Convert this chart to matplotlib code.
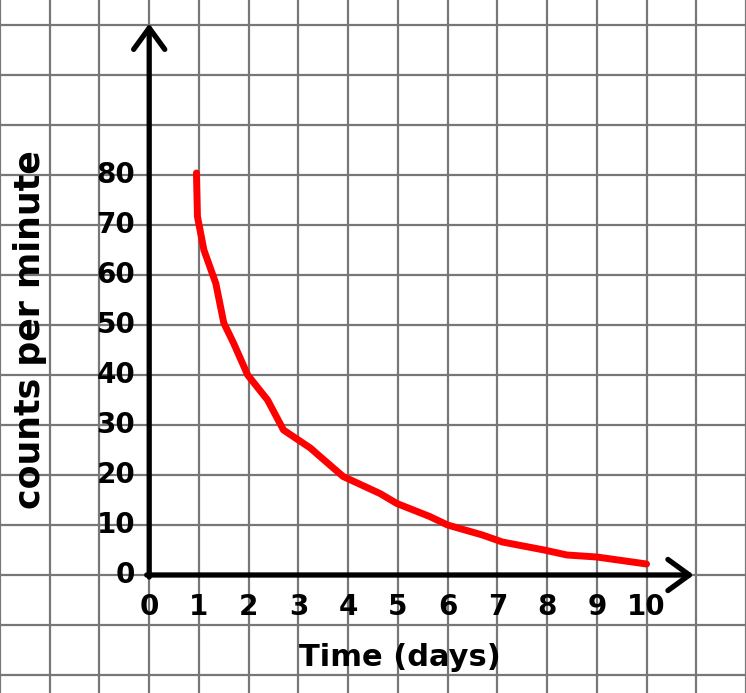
import matplotlib.pyplot as plt

# decay curve
days = [0.95, 0.97, 1.1, 1.34, 1.5, 1.7, 1.98, 2.38, 2.7, 3.0, 3.24, 3.4,
        3.9, 4.64, 4.98, 5.64, 6.0, 6.7, 7.1, 7.94, 8.4, 9.0, 10.0]
counts = [80.4, 71.7, 65, 58.3, 50.4, 46.3, 40, 35, 29, 27, 25.4, 24,
          19.7, 16.3, 14.3, 11.7, 10, 8, 6.6, 5, 4, 3.6, 2.2]

x_ticks = list(range(0, 11))
y_ticks = list(range(0, 90, 10))

font = "DejaVu Sans"

fig = plt.figure(figsize=(7.46, 6.93), dpi=100)
ax = fig.add_axes([0, 0, 1, 1])
ax.set_xlim(-2.96, 11.96)
ax.set_ylim(-23.6, 115)
for s in ax.spines.values():
    s.set_visible(False)

# squared paper
ax.set_xticks(range(-3, 13))
ax.set_yticks(range(-20, 120, 10))
ax.tick_params(length=0, labelbottom=False, labelleft=False)
ax.grid(True, color="#777777", linewidth=1.6)
ax.set_axisbelow(True)

# axes with arrows
arrow = dict(arrowstyle="->,head_length=0.55,head_width=0.4", lw=3.8,
             color="black", mutation_scale=28, shrinkA=0, shrinkB=0)
ax.annotate("", xy=(0, 110.3), xytext=(0, -0.4), arrowprops=arrow)
ax.annotate("", xy=(10.95, 0), xytext=(-0.05, 0), arrowprops=arrow)

ax.plot(days, counts, color="red", linewidth=5, solid_capstyle="round",
        solid_joinstyle="round")

for d in x_ticks:
    ax.text(d, -6.4, str(d), ha="center", va="center", fontsize=20,
            family=font, fontweight="bold")
for c in y_ticks:
    ax.text(-0.28, c, str(c), ha="right", va="center", fontsize=20,
            family=font, fontweight="bold")

ax.text(5.05, -16.6, "Time (days)", ha="center", va="center", fontsize=22,
        family=font, fontweight="bold")
ax.text(-2.4, 49, "counts per minute", ha="center", va="center",
        fontsize=25, family=font, fontweight="bold", rotation=90)

fig.savefig("out.png", dpi=100)
